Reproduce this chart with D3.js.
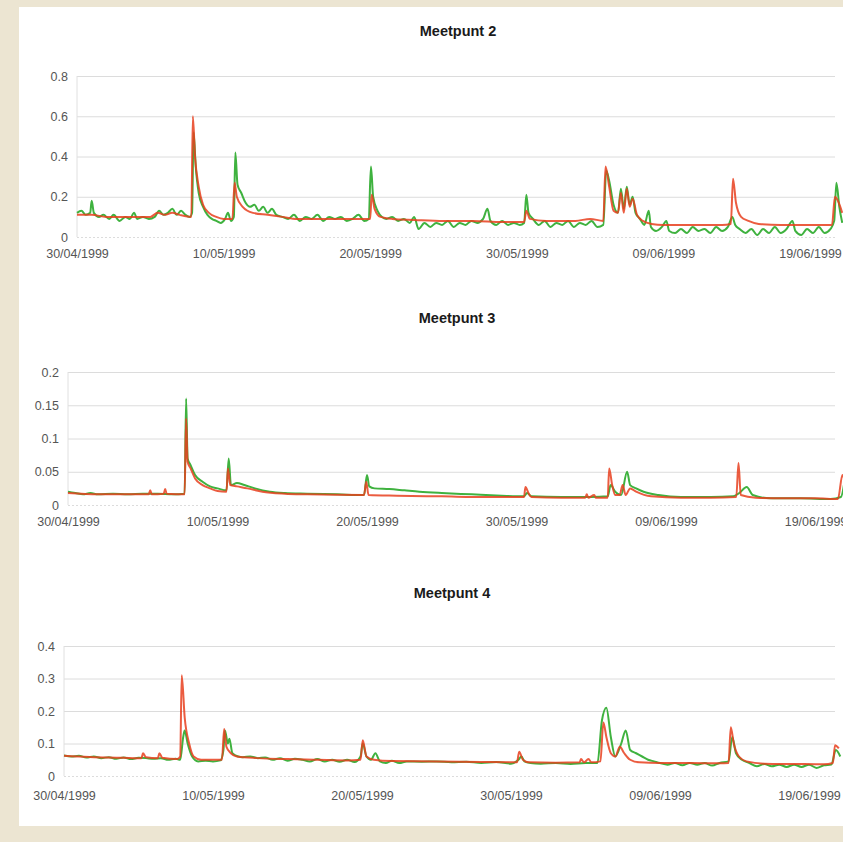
<!DOCTYPE html>
<html>
<head>
<meta charset="utf-8">
<script src="https://cdn.jsdelivr.net/npm/d3@7"></script>
<style>
  html, body { margin: 0; padding: 0; background: #ece5d2; }
  svg { display: block; }
  .tick text { font-family: "Liberation Sans", Arial, sans-serif; }
</style>
</head>
<body>
<div id="chart"></div>
<script>
// tick labels (x) and y ticks per panel
const dateTicks = ["30/04/1999", "10/05/1999", "20/05/1999", "30/05/1999", "09/06/1999", "19/06/1999"];
const titles = ["Meetpunt 2", "Meetpunt 3", "Meetpunt 4"];
const yTicks2 = [0, 0.2, 0.4, 0.6, 0.8];
const yTicks3 = [0, 0.05, 0.1, 0.15, 0.2];
const yTicks4 = [0, 0.1, 0.2, 0.3, 0.4];

// series: [days since 30/04/1999, value]
const mp2Green = [[0,0.12],[0.3,0.13],[0.6,0.11],[0.9,0.12],[1.0,0.18],[1.15,0.12],[1.5,0.1],[1.8,0.11],[2.2,0.09],[2.5,0.11],[2.9,0.08],[3.3,0.1],[3.6,0.09],[3.9,0.12],[4.1,0.09],[4.5,0.1],[4.9,0.09],[5.3,0.1],[5.6,0.13],[5.9,0.11],[6.2,0.12],[6.5,0.14],[6.8,0.11],[7.1,0.13],[7.4,0.11],[7.7,0.1],[7.85,0.12],[7.95,0.52],[8.1,0.35],[8.3,0.22],[8.6,0.15],[8.9,0.11],[9.2,0.09],[9.5,0.08],[9.8,0.07],[10.1,0.09],[10.3,0.12],[10.5,0.08],[10.7,0.1],[10.8,0.42],[10.95,0.26],[11.2,0.22],[11.5,0.17],[11.8,0.15],[12.1,0.16],[12.4,0.13],[12.7,0.15],[13.0,0.12],[13.3,0.14],[13.6,0.11],[14,0.1],[14.4,0.09],[14.8,0.11],[15.2,0.08],[15.6,0.1],[16,0.09],[16.4,0.11],[16.8,0.08],[17.2,0.1],[17.6,0.09],[18,0.1],[18.4,0.08],[18.8,0.09],[19.2,0.11],[19.6,0.08],[19.9,0.09],[20.05,0.35],[20.2,0.2],[20.5,0.13],[20.8,0.1],[21.1,0.09],[21.5,0.1],[21.9,0.08],[22.3,0.09],[22.7,0.07],[23.0,0.1],[23.3,0.04],[23.7,0.07],[24.1,0.05],[24.5,0.07],[24.9,0.06],[25.3,0.08],[25.7,0.05],[26.1,0.07],[26.5,0.06],[26.9,0.08],[27.3,0.07],[27.7,0.09],[28.0,0.14],[28.2,0.08],[28.6,0.06],[29.0,0.08],[29.4,0.06],[29.8,0.07],[30.2,0.06],[30.5,0.07],[30.65,0.21],[30.8,0.12],[31.1,0.09],[31.5,0.06],[31.9,0.08],[32.3,0.05],[32.7,0.07],[33.1,0.06],[33.5,0.08],[33.9,0.05],[34.3,0.07],[34.7,0.06],[35.1,0.08],[35.5,0.05],[35.9,0.06],[36.1,0.33],[36.3,0.28],[36.6,0.16],[36.9,0.12],[37.1,0.24],[37.3,0.14],[37.5,0.25],[37.7,0.16],[37.9,0.2],[38.1,0.12],[38.4,0.09],[38.7,0.06],[39.0,0.13],[39.15,0.05],[39.5,0.03],[39.9,0.05],[40.2,0.08],[40.4,0.03],[40.8,0.02],[41.2,0.04],[41.6,0.02],[42.0,0.05],[42.4,0.03],[42.8,0.04],[43.2,0.02],[43.6,0.05],[44.0,0.03],[44.4,0.05],[44.7,0.1],[44.9,0.06],[45.2,0.04],[45.6,0.02],[46,0.04],[46.4,0.01],[46.8,0.04],[47.2,0.02],[47.6,0.05],[48,0.02],[48.4,0.04],[48.8,0.08],[49.0,0.03],[49.4,0.01],[49.8,0.04],[50.2,0.02],[50.6,0.05],[51.0,0.02],[51.4,0.04],[51.65,0.08],[51.8,0.27],[52.0,0.15],[52.2,0.07]];
const mp2Red = [[0,0.11],[1,0.11],[2,0.1],[3,0.1],[4,0.1],[5,0.1],[5.5,0.12],[6,0.11],[6.5,0.12],[7,0.11],[7.8,0.1],[7.9,0.6],[8.05,0.4],[8.3,0.25],[8.6,0.16],[9,0.12],[9.5,0.1],[10,0.09],[10.6,0.09],[10.75,0.27],[10.9,0.2],[11.3,0.15],[12,0.12],[13,0.11],[14,0.1],[15,0.09],[17,0.09],[19,0.09],[20,0.09],[20.1,0.21],[20.3,0.14],[20.7,0.1],[21.5,0.09],[23,0.085],[25,0.08],[27,0.08],[29,0.075],[30.5,0.075],[30.65,0.13],[30.9,0.09],[32,0.08],[34,0.08],[35,0.09],[35.9,0.08],[36.05,0.35],[36.3,0.25],[36.6,0.13],[36.9,0.12],[37.1,0.22],[37.3,0.12],[37.5,0.24],[37.7,0.15],[37.9,0.19],[38.2,0.11],[38.6,0.08],[39.2,0.065],[40,0.06],[42,0.06],[44,0.06],[44.6,0.065],[44.75,0.29],[44.95,0.17],[45.3,0.1],[45.8,0.08],[46.5,0.065],[48,0.06],[50,0.06],[51.5,0.06],[51.7,0.2],[51.9,0.18],[52.2,0.12]];

const mp3Green = [[0,0.02],[0.5,0.018],[1,0.016],[1.5,0.018],[2,0.016],[3,0.017],[4,0.016],[5,0.017],[6,0.017],[7,0.016],[7.8,0.017],[7.9,0.16],[8.0,0.07],[8.2,0.06],[8.5,0.045],[9,0.035],[9.5,0.028],[10,0.025],[10.6,0.022],[10.75,0.07],[10.9,0.03],[11.3,0.033],[11.8,0.03],[12.5,0.025],[13.5,0.02],[14.5,0.018],[16,0.017],[18,0.016],[19.8,0.015],[20.0,0.045],[20.15,0.028],[20.5,0.025],[21.5,0.024],[22.5,0.022],[23.5,0.02],[25,0.018],[27,0.016],[29,0.014],[30.5,0.013],[30.7,0.018],[31,0.013],[33,0.012],[35,0.012],[36.1,0.013],[36.3,0.03],[36.6,0.02],[37,0.015],[37.4,0.05],[37.6,0.03],[38,0.025],[38.5,0.02],[39.5,0.015],[41,0.012],[43,0.012],[44.5,0.013],[44.9,0.018],[45.4,0.027],[45.8,0.015],[47,0.01],[49,0.01],[51,0.009],[51.7,0.012],[52.0,0.045]];
const mp3Red = [[0,0.018],[2,0.016],[4,0.016],[5.4,0.016],[5.5,0.022],[5.6,0.016],[6.4,0.017],[6.5,0.024],[6.6,0.017],[7.8,0.016],[7.9,0.13],[8.0,0.065],[8.2,0.055],[8.5,0.04],[9,0.03],[9.5,0.025],[10,0.021],[10.6,0.02],[10.7,0.055],[10.85,0.03],[11.3,0.028],[12,0.025],[13,0.02],[14.5,0.017],[16,0.016],[19.8,0.015],[19.95,0.035],[20.1,0.015],[22,0.014],[25,0.013],[28,0.012],[30.5,0.012],[30.6,0.027],[30.8,0.018],[31.0,0.012],[33,0.011],[34.6,0.011],[34.7,0.016],[34.8,0.011],[35.2,0.015],[35.3,0.011],[36.1,0.011],[36.2,0.055],[36.4,0.03],[36.6,0.015],[36.9,0.015],[37.1,0.03],[37.3,0.015],[37.6,0.025],[38,0.02],[39,0.013],[41,0.011],[43,0.011],[44.7,0.012],[44.85,0.063],[45.0,0.015],[46,0.011],[48,0.01],[50,0.01],[51.5,0.009],[51.8,0.045],[52.0,0.03]];

const mp4Green = [[0,0.063],[0.5,0.06],[1,0.062],[1.5,0.057],[2,0.06],[2.5,0.055],[3,0.058],[3.5,0.053],[4,0.057],[4.5,0.052],[5,0.056],[5.5,0.055],[6,0.053],[6.5,0.055],[7,0.05],[7.5,0.053],[7.8,0.05],[8.0,0.12],[8.1,0.14],[8.3,0.1],[8.6,0.06],[9,0.045],[9.5,0.047],[10,0.045],[10.5,0.048],[10.7,0.08],[10.8,0.14],[11.0,0.1],[11.1,0.115],[11.3,0.07],[11.7,0.06],[12,0.058],[12.5,0.06],[13,0.055],[13.5,0.057],[14,0.05],[14.5,0.055],[15,0.047],[15.5,0.053],[16,0.05],[16.5,0.045],[17,0.052],[17.5,0.045],[18,0.05],[18.5,0.044],[19,0.05],[19.5,0.043],[19.9,0.06],[20.05,0.1],[20.3,0.06],[20.6,0.05],[20.9,0.07],[21.2,0.045],[21.6,0.04],[22,0.047],[22.5,0.04],[23,0.045],[24,0.044],[25,0.045],[26,0.042],[27,0.044],[28,0.04],[29,0.043],[30,0.038],[30.5,0.05],[30.7,0.06],[30.9,0.045],[31.3,0.04],[32,0.038],[33,0.04],[34,0.037],[35,0.04],[35.8,0.04],[36.1,0.17],[36.4,0.21],[36.7,0.12],[37.0,0.06],[37.4,0.1],[37.7,0.14],[38,0.08],[38.4,0.07],[38.8,0.06],[39.2,0.05],[39.6,0.045],[40,0.04],[40.5,0.035],[41,0.04],[41.5,0.033],[42,0.04],[42.5,0.035],[43,0.04],[43.5,0.032],[44,0.04],[44.6,0.045],[44.85,0.12],[45.1,0.07],[45.5,0.05],[46,0.04],[46.5,0.03],[47,0.037],[47.5,0.03],[48,0.035],[48.5,0.028],[49,0.035],[49.5,0.028],[50,0.035],[50.5,0.025],[51,0.033],[51.5,0.035],[51.8,0.08],[52.1,0.06]];
const mp4Red = [[0,0.062],[1,0.06],[2,0.058],[3,0.057],[4,0.056],[5,0.055],[5.2,0.055],[5.3,0.07],[5.5,0.058],[6.3,0.055],[6.4,0.07],[6.6,0.056],[7.6,0.052],[7.8,0.06],[7.9,0.31],[8.1,0.18],[8.4,0.1],[8.7,0.06],[9.2,0.05],[10,0.05],[10.6,0.05],[10.75,0.145],[10.9,0.09],[11.2,0.07],[11.6,0.06],[13,0.055],[15,0.052],[17,0.05],[19,0.048],[19.9,0.05],[20.05,0.11],[20.3,0.06],[20.8,0.05],[22,0.046],[25,0.045],[28,0.043],[30.4,0.042],[30.55,0.075],[30.8,0.05],[31.2,0.042],[33,0.041],[34.6,0.042],[34.7,0.052],[34.9,0.042],[35.2,0.052],[35.4,0.042],[36.0,0.045],[36.2,0.165],[36.4,0.12],[36.7,0.07],[37.0,0.06],[37.3,0.09],[37.6,0.07],[38,0.05],[38.6,0.042],[40,0.04],[42,0.04],[44,0.039],[44.6,0.04],[44.75,0.15],[44.95,0.1],[45.3,0.06],[45.8,0.045],[47,0.038],[49,0.037],[51,0.036],[51.6,0.04],[51.75,0.095],[52.0,0.085]];

const W = 843, H = 842;
const GREEN = "#3fb23f", RED = "#e8401e";
const parseDate = d3.timeParse("%d/%m/%Y");
const fmtDate = d3.timeFormat("%d/%m/%Y");
const start = parseDate(dateTicks[0]);
const toDate = d => new Date(start.getTime() + d * 864e5);

const svg = d3.select("#chart").append("svg")
  .attr("width", W).attr("height", H);

// white card on beige
svg.append("rect").attr("x", 19).attr("y", 7)
  .attr("width", W - 19).attr("height", 819).attr("fill", "#fff");

svg.append("clipPath").attr("id", "clip")
  .append("rect").attr("x", 0).attr("y", 0).attr("width", W).attr("height", H);

const panels = [
  { title: titles[0], green: mp2Green, red: mp2Red, ticks: yTicks2,
    left: 77, perDay: 14.66, top: 76, bottom: 237, titleX: 458, titleY: 36, labelY: 259 },
  { title: titles[1], green: mp3Green, red: mp3Red, ticks: yTicks3,
    left: 68, perDay: 14.95, top: 372, bottom: 505, titleX: 457, titleY: 323, labelY: 527 },
  { title: titles[2], green: mp4Green, red: mp4Red, ticks: yTicks4,
    left: 64, perDay: 14.9, top: 646, bottom: 776, titleX: 452, titleY: 598, labelY: 801 }
];

panels.forEach(p => {
  const endDays = (W + 5 - p.left) / p.perDay;
  const x = d3.scaleTime()
    .domain([start, toDate(endDays)])
    .range([p.left, W + 5]);
  const y = d3.scaleLinear()
    .domain([0, d3.max(p.ticks)])
    .range([p.bottom, p.top]);
  const gridRight = 835;

  const g = svg.append("g");

  // title
  g.append("text")
    .attr("x", p.titleX).attr("y", p.titleY)
    .attr("text-anchor", "middle")
    .attr("font-family", "Liberation Sans, Arial, sans-serif")
    .attr("font-weight", "bold")
    .attr("font-size", 14.5)
    .attr("fill", "#1a1a1a")
    .text(p.title);

  // horizontal gridlines + y labels
  const yAxis = g.append("g")
    .attr("transform", `translate(${p.left},0)`)
    .call(d3.axisLeft(y).tickValues(p.ticks)
      .tickSize(-(gridRight - p.left)).tickPadding(9)
      .tickFormat(d => String(d)));
  yAxis.select(".domain").remove();
  yAxis.selectAll(".tick line")
    .attr("stroke", "#dcdcdc")
    .attr("stroke-dasharray", d => d === 0 ? "2,2" : null);
  yAxis.selectAll(".tick text")
    .attr("font-size", 12.5).attr("fill", "#555");

  // vertical axis line
  g.append("line")
    .attr("x1", p.left).attr("x2", p.left)
    .attr("y1", p.top).attr("y2", p.bottom)
    .attr("stroke", "#e0e0e0");

  // date labels
  const xAxis = g.append("g")
    .attr("transform", `translate(0,${p.labelY - 10})`)
    .call(d3.axisBottom(x).tickValues(dateTicks.map(parseDate))
      .tickSize(0).tickPadding(0).tickFormat(fmtDate));
  xAxis.select(".domain").remove();
  xAxis.selectAll(".tick text")
    .attr("font-size", 12.5).attr("fill", "#555").attr("dy", "0.71em");

  const line = d3.line()
    .curve(d3.curveMonotoneX)
    .x(d => x(toDate(d[0])))
    .y(d => y(d[1]));

  g.append("path").datum(p.green)
    .attr("clip-path", "url(#clip)")
    .attr("fill", "none").attr("stroke", GREEN)
    .attr("stroke-width", 2).attr("stroke-linejoin", "round")
    .attr("d", line);

  g.append("path").datum(p.red)
    .attr("clip-path", "url(#clip)")
    .attr("fill", "none").attr("stroke", RED)
    .attr("stroke-width", 2).attr("stroke-linejoin", "round")
    .attr("stroke-opacity", 0.85)
    .attr("d", line);
});
</script>
</body>
</html>
